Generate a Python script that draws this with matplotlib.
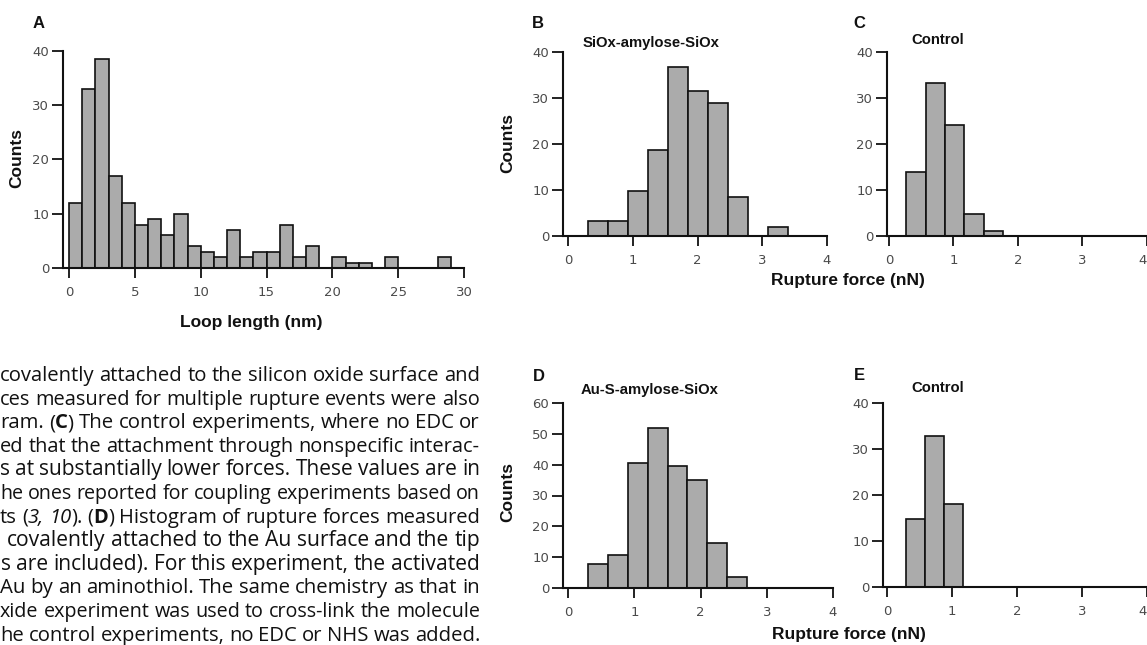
import matplotlib
matplotlib.use("Agg")
import matplotlib.pyplot as plt
import numpy as np

W, H = 1147, 645

# ---------------- data ----------------
loop_bin_start = 0.0
loop_bin_width = 1.0
loop_counts = [12, 33, 38.5, 17, 12, 8, 9, 6, 10, 4, 3, 2, 7, 2, 3, 3, 8, 2, 4, 0,
               2, 1, 1, 0, 2, 0, 0, 0, 2]

siox_bin_start = 0.30
siox_bin_width = 0.31
siox_counts = [3.3, 3.3, 9.7, 18.8, 36.7, 31.6, 28.9, 8.5, 0, 2]

control1_bin_start = 0.27
control1_bin_width = 0.30
control1_counts = [14, 33.2, 24.2, 4.8, 1.0]

au_bin_start = 0.30
au_bin_width = 0.30
au_counts = [7.8, 10.7, 40.5, 51.9, 39.7, 34.9, 14.6, 3.5]

control2_bin_start = 0.30
control2_bin_width = 0.29
control2_counts = [14.8, 32.9, 18.0]

loop_xticks = [0, 5, 10, 15, 20, 25, 30]
force_xticks = [0, 1, 2, 3, 4]
counts_yticks40 = [0, 10, 20, 30, 40]
counts_yticks60 = [0, 10, 20, 30, 40, 50, 60]

body_lines = [
    [("covalently attached to the silicon oxide surface and", "normal", "normal")],
    [("ces measured for multiple rupture events were also", "normal", "normal")],
    [("ram. (", "normal", "normal"), ("C", "bold", "normal"),
     (") The control experiments, where no EDC or", "normal", "normal")],
    [("ed that the attachment through nonspecific interac-", "normal", "normal")],
    [("s at substantially lower forces. These values are in", "normal", "normal")],
    [("he ones reported for coupling experiments based on", "normal", "normal")],
    [("ts (", "normal", "normal"), ("3, 10", "normal", "italic"), ("). (", "normal", "normal"),
     ("D", "bold", "normal"), (") Histogram of rupture forces measured", "normal", "normal")],
    [("covalently attached to the Au surface and the tip", "normal", "normal")],
    [("s are included). For this experiment, the activated", "normal", "normal")],
    [("Au by an aminothiol. The same chemistry as that in", "normal", "normal")],
    [("xide experiment was used to cross-link the molecule", "normal", "normal")],
    [("he control experiments, no EDC or NHS was added.", "normal", "normal")],
]
body_line_left = [0, 0, 0, 0, 0, 0, 0, 7, 1, 0, 0, 0]

# ---------------- style ----------------
BAR_FACE = "#ababab"
EDGE = "#111111"
TICK_LABEL = "#4a4a4a"
LABEL_FONT = "Liberation Sans"

fig = plt.figure(figsize=(W / 100, H / 100), dpi=100)
fig.patch.set_facecolor("white")


def px_axes(l, t, r, b):
    return fig.add_axes([l / W, 1 - b / H, (r - l) / W, (b - t) / H])


def ftext(x, y, s, **kw):
    return fig.text(x / W, 1 - y / H, s, **kw)


def hist_panel(ax, start, width, counts, xlim, ylim, xticks, yticks):
    n = len(counts)
    lefts = start + width * np.arange(n)
    ax.bar(lefts, counts, width=width, align="edge", color=BAR_FACE,
           edgecolor=EDGE, linewidth=1.2, zorder=2)
    ax.set_xlim(*xlim)
    ax.set_ylim(*ylim)
    ax.set_xticks(xticks)
    ax.set_yticks(yticks)
    for s in ("top", "right"):
        ax.spines[s].set_visible(False)
    for s in ("left", "bottom"):
        ax.spines[s].set_linewidth(1.5)
        ax.spines[s].set_color(EDGE)
        ax.spines[s].set_zorder(3)
    ax.tick_params(axis="y", direction="out", length=8, width=1.3, color=EDGE,
                   labelsize=9.5, labelcolor=TICK_LABEL, pad=2)
    ax.tick_params(axis="x", direction="out", length=7, width=1.3, color=EDGE,
                   labelsize=9.5, labelcolor=TICK_LABEL, pad=6)
    ax.set_facecolor("none")


# Panel A
axA = px_axes(63, 51, 464, 268)
hist_panel(axA, loop_bin_start, loop_bin_width, loop_counts, (-0.46, 30), (0, 40),
           loop_xticks, counts_yticks40)
# Panel B
axB = px_axes(563, 52, 827, 236)
hist_panel(axB, siox_bin_start, siox_bin_width, siox_counts, (-0.08, 4), (0, 40),
           force_xticks, counts_yticks40)
# Panel C
axC = px_axes(887, 52, 1147, 236)
hist_panel(axC, control1_bin_start, control1_bin_width, control1_counts, (-0.03, 4), (0, 40),
           force_xticks, counts_yticks40)
# Panel D
axD = px_axes(563, 403, 833, 588)
hist_panel(axD, au_bin_start, au_bin_width, au_counts, (-0.08, 4), (0, 60),
           force_xticks, counts_yticks60)
# Panel E
axE = px_axes(883, 403, 1147, 587)
hist_panel(axE, control2_bin_start, control2_bin_width, control2_counts, (-0.06, 4), (0, 40),
           force_xticks, counts_yticks40)

# keep the rightmost tick label of the edge panels inside the picture
for ax in (axC, axE):
    ax.get_xticklabels()[-1].set_horizontalalignment("right")

bold_lbl = dict(family=LABEL_FONT, weight="bold", color="#111111")

# panel letters
for (x, y, s) in [(39, 24, "A"), (538, 23, "B"), (859, 23, "C"), (539, 377, "D"), (859, 376, "E")]:
    ftext(x, y, s, ha="center", va="center", fontsize=12, **bold_lbl)

# subtitles
ftext(651, 43, "SiOx-amylose-SiOx", ha="center", va="center", fontsize=10.7, **bold_lbl)
ftext(938, 40, "Control", ha="center", va="center", fontsize=10.7, **bold_lbl)
ftext(650, 390, "Au-S-amylose-SiOx", ha="center", va="center", fontsize=10.7, **bold_lbl)
ftext(938, 388, "Control", ha="center", va="center", fontsize=10.7, **bold_lbl)

# axis labels
for (x, y) in [(17, 158), (508, 143), (508, 492)]:
    ftext(x, y, "Counts", ha="center", va="center", rotation=90, fontsize=12.5, **bold_lbl)
ftext(251, 322, "Loop length (nm)", ha="center", va="center", fontsize=12.5, **bold_lbl)
ftext(848, 280, "Rupture force (nN)", ha="center", va="center", fontsize=12.5, **bold_lbl)
ftext(849, 635, "Rupture force (nN)", ha="center", va="center", fontsize=12.5, **bold_lbl)

# ---------------- body text (cropped journal column, justified) ----------------
BODY_FONT = "Open Sans"
BODY_SIZE = 15.2
MIN_GAP = 5.0
right_x = 480
baseline0 = 381
line_step = 23.6
renderer = fig.canvas.get_renderer()


def body_kw(weight, style, size):
    return dict(family=BODY_FONT, fontsize=size, weight=weight, style=style,
                color="#111111", va="baseline", ha="left")


def measure(s, weight, style, size):
    t = fig.text(0, 0, s, **body_kw(weight, style, size))
    w = t.get_window_extent(renderer).width
    t.remove()
    return w


for i, pieces in enumerate(body_lines):
    y = baseline0 + i * line_step
    words, cur = [], []
    for text, weight, style in pieces:
        parts = text.split(" ")
        for j, part in enumerate(parts):
            if j > 0 and cur:
                words.append(cur)
                cur = []
            if part:
                cur.append((part, weight, style))
    if cur:
        words.append(cur)
    left = body_line_left[i]
    ngaps = max(len(words) - 1, 1)
    size = BODY_SIZE
    widths = [[measure(s, w, st, size) for (s, w, st) in word] for word in words]
    total = sum(sum(ws) for ws in widths)
    avail = right_x - left - MIN_GAP * ngaps
    if total > avail:  # tighten this line's type a little so it still fits
        size = size * avail / total
        widths = [[measure(s, w, st, size) for (s, w, st) in word] for word in words]
        total = sum(sum(ws) for ws in widths)
    gap = (right_x - left - total) / ngaps
    x = left
    for word, ws in zip(words, widths):
        for (s, w, st), sw in zip(word, ws):
            ftext(x, y, s, **body_kw(w, st, size))
            x += sw
        x += gap

fig.savefig("out.png", dpi=100, facecolor="white")
